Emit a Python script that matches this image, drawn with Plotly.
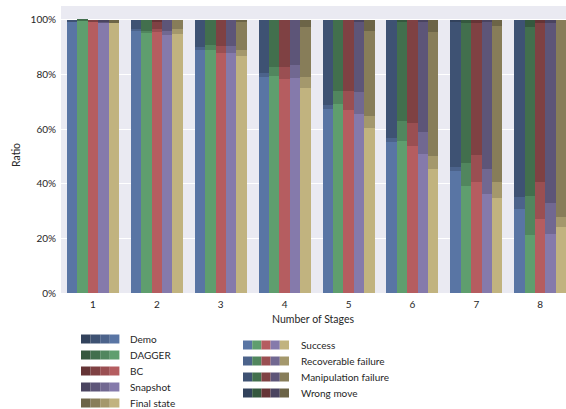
import plotly.graph_objects as go

stages = [1, 2, 3, 4, 5, 6, 7, 8]
methods = ["Demo", "DAGGER", "BC", "Snapshot", "Final state"]
categories = ["Success", "Recoverable failure", "Manipulation failure", "Wrong move"]
y_ticks = [0, 0.2, 0.4, 0.6, 0.8, 1.0]
y_tick_labels = ["0%", "20%", "40%", "60%", "80%", "100%"]

# rows = methods, columns = stages
success = [
    [0.990, 0.960, 0.890, 0.791, 0.674, 0.553, 0.447, 0.308],
    [0.997, 0.952, 0.890, 0.795, 0.692, 0.557, 0.392, 0.212],
    [0.995, 0.956, 0.879, 0.784, 0.670, 0.538, 0.407, 0.271],
    [0.988, 0.945, 0.879, 0.788, 0.656, 0.509, 0.363, 0.216],
    [0.989, 0.949, 0.868, 0.751, 0.604, 0.454, 0.348, 0.242],
]
recoverable = [
    [0.000, 0.006, 0.009, 0.015, 0.015, 0.015, 0.015, 0.044],
    [0.000, 0.008, 0.018, 0.033, 0.048, 0.073, 0.084, 0.143],
    [0.000, 0.011, 0.023, 0.044, 0.070, 0.085, 0.098, 0.136],
    [0.000, 0.015, 0.026, 0.047, 0.080, 0.081, 0.091, 0.114],
    [0.000, 0.016, 0.022, 0.040, 0.044, 0.048, 0.059, 0.036],
]
manipulation = [
    [0.010, 0.034, 0.101, 0.194, 0.311, 0.432, 0.531, 0.648],
    [0.003, 0.040, 0.092, 0.172, 0.260, 0.364, 0.513, 0.619],
    [0.005, 0.028, 0.098, 0.172, 0.260, 0.377, 0.484, 0.582],
    [0.006, 0.040, 0.095, 0.165, 0.257, 0.403, 0.539, 0.659],
    [0.000, 0.035, 0.100, 0.183, 0.312, 0.454, 0.571, 0.722],
]
wrong_move = [
    [0.000, 0.000, 0.000, 0.000, 0.000, 0.000, 0.007, 0.000],
    [0.000, 0.000, 0.000, 0.000, 0.000, 0.006, 0.011, 0.026],
    [0.000, 0.005, 0.000, 0.000, 0.000, 0.000, 0.011, 0.011],
    [0.006, 0.000, 0.000, 0.000, 0.007, 0.007, 0.007, 0.011],
    [0.011, 0.000, 0.010, 0.026, 0.040, 0.044, 0.022, 0.000],
]

base_colors = [(89, 117, 164), (95, 158, 110), (181, 93, 96), (133, 122, 171), (193, 179, 127)]
shade_factors = [1.0, 0.85, 0.70, 0.56]


def shade(rgb, f):
    return "rgb(%d,%d,%d)" % tuple(int(round(c * f)) for c in rgb)


FONT = "Lato"
TEXT = "#262626"
bar_w = 0.163
group_left = -0.4075

fig = go.Figure()
series = [success, recoverable, manipulation, wrong_move]
for mi, m in enumerate(methods):
    cum = [0.0] * len(stages)
    for ci, cat in enumerate(categories):
        vals = series[ci][mi]
        fig.add_trace(go.Bar(
            x=stages, y=vals, base=list(cum),
            offset=group_left + mi * bar_w, width=bar_w,
            marker=dict(color=shade(base_colors[mi], shade_factors[ci]), line=dict(width=0)),
            name=f"{m} – {cat}", showlegend=False,
        ))
        cum = [a + b for a, b in zip(cum, vals)]

W, H = 566, 409
ml, mr, mt, mb = 61, 0, 6, 116
pw, ph = W - ml - mr, H - mt - mb


def px2paper(x, y):
    return (x - ml) / pw, (H - mb - y) / ph


shapes = []
annotations = []
# legend 1: methods, 4 shades each (darkest -> base)
for i, m in enumerate(methods):
    cy = 339 + i * 16
    for k in range(4):
        x0, y0 = px2paper(81 + k * 9.6, cy - 4.5)
        x1, y1 = px2paper(81 + (k + 1) * 9.6, cy + 4.5)
        shapes.append(dict(type="rect", xref="paper", yref="paper", x0=x0, x1=x1, y0=y1, y1=y0,
                           fillcolor=shade(base_colors[i], shade_factors[3 - k]), line=dict(width=0)))
    ax, ay = px2paper(128, cy)
    annotations.append(dict(xref="paper", yref="paper", x=ax, y=ay, text=m, showarrow=False,
                            xanchor="left", yanchor="middle", font=dict(family=FONT, size=10, color=TEXT)))
# legend 2: categories, 5 method colours each
for j, cat in enumerate(categories):
    cy = 345 + j * 16
    for k in range(5):
        x0, y0 = px2paper(243 + k * 9.2, cy - 4.5)
        x1, y1 = px2paper(243 + (k + 1) * 9.2, cy + 4.5)
        shapes.append(dict(type="rect", xref="paper", yref="paper", x0=x0, x1=x1, y0=y1, y1=y0,
                           fillcolor=shade(base_colors[k], shade_factors[j]), line=dict(width=0)))
    ax, ay = px2paper(299, cy)
    annotations.append(dict(xref="paper", yref="paper", x=ax, y=ay, text=cat, showarrow=False,
                            xanchor="left", yanchor="middle", font=dict(family=FONT, size=10, color=TEXT)))

# axis titles
ax, ay = px2paper(313, 319)
annotations.append(dict(xref="paper", yref="paper", x=ax, y=ay, text="Number of Stages", showarrow=False,
                        xanchor="center", yanchor="middle", font=dict(family=FONT, size=10.5, color=TEXT)))
ax, ay = px2paper(16, 155)
annotations.append(dict(xref="paper", yref="paper", x=ax, y=ay, text="Ratio", showarrow=False, textangle=-90,
                        xanchor="center", yanchor="middle", font=dict(family=FONT, size=10.5, color=TEXT)))

fig.update_layout(
    width=W, height=H,
    margin=dict(l=ml, r=mr, t=mt, b=mb, autoexpand=False),
    paper_bgcolor="white", plot_bgcolor="#EAEAF2",
    barmode="overlay", bargap=0,
    font=dict(family=FONT, size=10, color=TEXT),
    shapes=shapes, annotations=annotations,
    xaxis=dict(range=[0.5, 0.5 + pw / 63.9], tickmode="array", tickvals=stages,
               ticktext=[str(s) for s in stages], showgrid=False, zeroline=False,
               ticks="", showline=False, automargin=False, ticklabelstandoff=4),
    yaxis=dict(range=[0, 1.05], tickmode="array", tickvals=y_ticks, ticktext=y_tick_labels,
               showgrid=True, gridcolor="white", gridwidth=1.2, zeroline=False, ticks="",
               showline=False, automargin=False, ticklabelstandoff=4),
)

fig.write_html("out.html", config={"displayModeBar": False},
               post_script="document.body.style.margin='0';document.body.style.padding='0';")
